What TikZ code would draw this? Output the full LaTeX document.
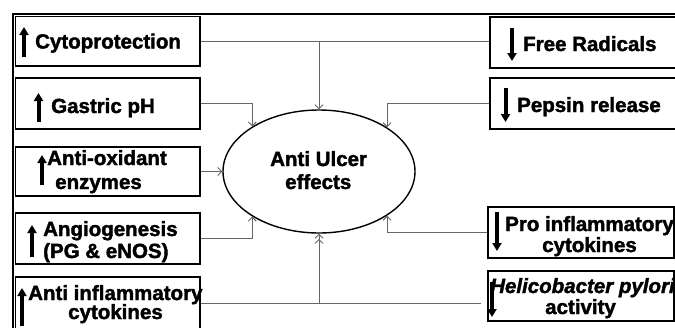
\documentclass[tikz,border=0pt]{standalone}
\usepackage{fontspec}
\setmainfont{Liberation Sans}[BoldFeatures={FakeBold=1.8},BoldItalicFeatures={FakeBold=1.8}]
\usetikzlibrary{arrows.meta,shapes.geometric}
\begin{document}
\begin{tikzpicture}[x=1pt,y=-1pt,
  box/.style={draw, line width=1.6pt, rectangle, inner sep=0pt},
  lbl/.style={anchor=base west, inner sep=0pt, font=\fontsize{20.5}{24}\selectfont\bfseries},
  conn/.style={draw=black!60, line width=0.9pt, -{Straight Barb[length=4pt,width=8pt]}},
  plain/.style={draw=black!60, line width=0.9pt},
  bigarr/.style={line width=4pt, -{Triangle[length=8pt,width=9pt]}},
  frame/.style={line width=2pt}
  ]
\useasboundingbox (0,0) rectangle (675,327);
\clip (0,0) rectangle (675,327);
% outer frame
\draw[frame] (12.5,340) -- (12.5,13.5) -- (690,13.5);
% left boxes
\node[box, minimum width=184.5, minimum height=49.5] (b1) at (107.75,41.25) {};
\node[box, minimum width=184.5, minimum height=51] (b2) at (107.75,103.5) {};
\node[box, minimum width=184.5, minimum height=49] (b3) at (107.75,171.5) {};
\node[box, minimum width=184.5, minimum height=51] (b4) at (107.75,238.5) {};
\node[box, minimum width=184.5, minimum height=52] (b5) at (107.75,303) {};
% right boxes
\node[box, minimum width=210, minimum height=51] (r1) at (595,42.5) {};
\node[box, minimum width=210, minimum height=51] (r2) at (595,103.5) {};
\node[box, minimum width=186, minimum height=51] (r3) at (581,232.5) {};
\node[box, minimum width=186, minimum height=50] (r4) at (581,296) {};
% ellipse
\node[draw, ellipse, line width=1.4pt, minimum width=192, minimum height=123, inner sep=0pt] (e) at (319,171.5) {};
% connectors
\draw[plain] (b1.east) -- (b1.east -| r1.west);
\draw[conn] (e.north |- b1.east) -- (e.north);
\draw[conn] (b2.east) -| (e.146.7);
\draw[conn] (r2.west) -| (e.33.3);
\draw[conn] (b3.east) -- (e.west);
\draw[conn] (b4.east) -| (e.-146.7);
\draw[conn] (r3.west) -| (e.-33.3);
\draw[plain] (b5.east) -- ([xshift=-6pt]b5.east -| r4.west);
\draw[draw=black!60, line width=0.9pt, -{Straight Barb[length=4pt,width=8pt] Straight Barb[length=4pt,width=8pt]}] (e.south |- b5.east) -- (e.south);
% big arrows
\draw[bigarr] (24,57) -- (24,27);
\draw[bigarr] (38.5,122) -- (38.5,93);
\draw[bigarr] (42,185) -- (42,155);
\draw[bigarr] (32,257) -- (32,225);
\draw[bigarr] (22,326) -- (22,288);
\draw[bigarr] (512,28) -- (512,61);
\draw[bigarr] (505.5,88) -- (505.5,122);
\draw[bigarr] (497,212) -- (497,251);
\draw[bigarr] (492,282) -- (492,317);
% labels
\node[lbl] (t1) at (35,48.5) {Cytoprotection};
\node[lbl] (t2) at (51,113) {Gastric pH};
\node[lbl] (t3a) at (47,165) {Anti-oxidant};
\node[lbl] (t3b) at (55,189) {enzymes};
\node[lbl] (t4a) at (43,236) {Angiogenesis};
\node[lbl] (t4b) at (43,258) {(PG \& eNOS)};
\node[lbl] (t5a) at (28,300) {Anti inflammatory};
\node[lbl] (t5b) at (68,319) {cytokines};
\node[lbl] (s1) at (523,51) {Free Radicals};
\node[lbl] (s2) at (517,112) {Pepsin release};
\node[lbl] (s3a) at (505,231) {Pro inflammatory};
\node[lbl] (s3b) at (542,252) {cytokines};
\node[lbl] (s4a) at (490,293) {\itshape Helicobacter pylori};
\node[lbl] (s4b) at (545,314) {activity};
\node[lbl] (ea) at (270,166) {Anti Ulcer};
\node[lbl] (eb) at (285,189) {effects};
\end{tikzpicture}
\end{document}
